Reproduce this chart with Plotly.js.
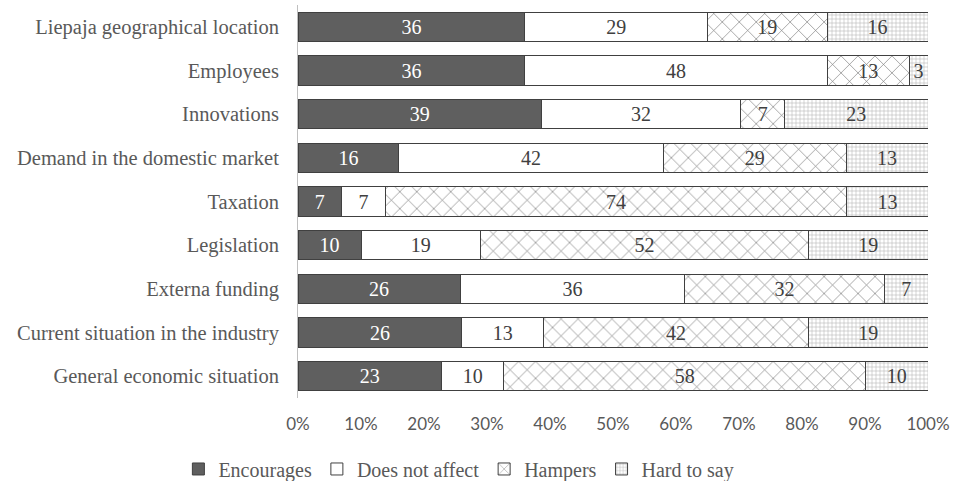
<!DOCTYPE html>
<html>
<head>
<meta charset="utf-8">
<script src="https://cdn.plot.ly/plotly-3.0.1.min.js"></script>
<style>html,body{margin:0;padding:0;background:#fff;}#chart{width:956px;height:481px;}</style>
</head>
<body>
<div id="chart"></div>
<script>
const categories = [
  "Liepaja geographical location",
  "Employees",
  "Innovations",
  "Demand in the domestic market",
  "Taxation",
  "Legislation",
  "Externa funding",
  "Current situation in the industry",
  "General economic situation"
];
const encourages   = [36, 36, 39, 16, 7, 10, 26, 26, 23];
const doesNotAffect = [29, 48, 32, 42, 7, 19, 36, 13, 10];
const hampers      = [19, 13, 7, 29, 74, 52, 32, 42, 58];
const hardToSay    = [16, 3, 23, 13, 13, 19, 7, 19, 10];
const tickVals = [0, 10, 20, 30, 40, 50, 60, 70, 80, 90, 100];
const tickText = ["0%", "10%", "20%", "30%", "40%", "50%", "60%", "70%", "80%", "90%", "100%"];

const serif = "Liberation Serif, Times New Roman, serif";
const lineStyle = {color: "#404040", width: 1};

function mk(name, vals, marker, textColor) {
  return {
    type: "bar", orientation: "h", name: name,
    y: categories, x: vals,
    text: vals.map(String),
    textposition: "inside", insidetextanchor: "middle", textangle: 0,
    textfont: {family: serif, size: 20, color: textColor},
    constraintext: "none",
    marker: marker,
    hoverinfo: "none"
  };
}

const traces = [
  mk("Encourages", encourages, {color: "#5f5f5f", line: lineStyle}, "#ffffff"),
  mk("Does not affect", doesNotAffect, {color: "#ffffff", line: lineStyle}, "#404040"),
  mk("Hampers", hampers, {color: "#ffffff", line: lineStyle,
     pattern: {shape: "x", size: 12, solidity: 0.1, fgcolor: "#707070", bgcolor: "#ffffff", fillmode: "replace"}}, "#404040"),
  mk("Hard to say", hardToSay, {color: "#ffffff", line: lineStyle,
     pattern: {shape: "+", size: 4, solidity: 0.25, fgcolor: "#b0b0b0", bgcolor: "#ffffff", fillmode: "replace"}}, "#404040")
];

const layout = {
  width: 956, height: 481,
  margin: {l: 298, r: 28, t: 5, b: 83, autoexpand: false},
  barmode: "stack", barnorm: "percent", bargap: 0.33,
  paper_bgcolor: "#fff", plot_bgcolor: "#fff",
  showlegend: true,
  legend: {orientation: "h", xref: "container", yref: "container", x: 0.48, xanchor: "center",
           y: 0.025, yanchor: "middle", itemwidth: 30,
           font: {family: serif, size: 20, color: "#595959"}, traceorder: "normal"},
  uniformtext: {mode: "show", minsize: 20},
  xaxis: {range: [0, 100], tickvals: tickVals, ticktext: tickText, showgrid: false,
          zeroline: false, showline: false, ticks: "", ticklabelstandoff: 14,
          tickfont: {family: "Lato, Liberation Sans, sans-serif", size: 17, color: "#595959"}},
  yaxis: {type: "category", autorange: "reversed", showline: true, linecolor: "#bfbfbf", linewidth: 1,
          ticks: "", ticklen: 0, showgrid: false, ticklabelstandoff: 14,
          tickfont: {family: serif, size: 20.5, color: "#595959"}}
};

Plotly.newPlot("chart", traces, layout, {staticPlot: true, displayModeBar: false});
</script>
</body>
</html>
